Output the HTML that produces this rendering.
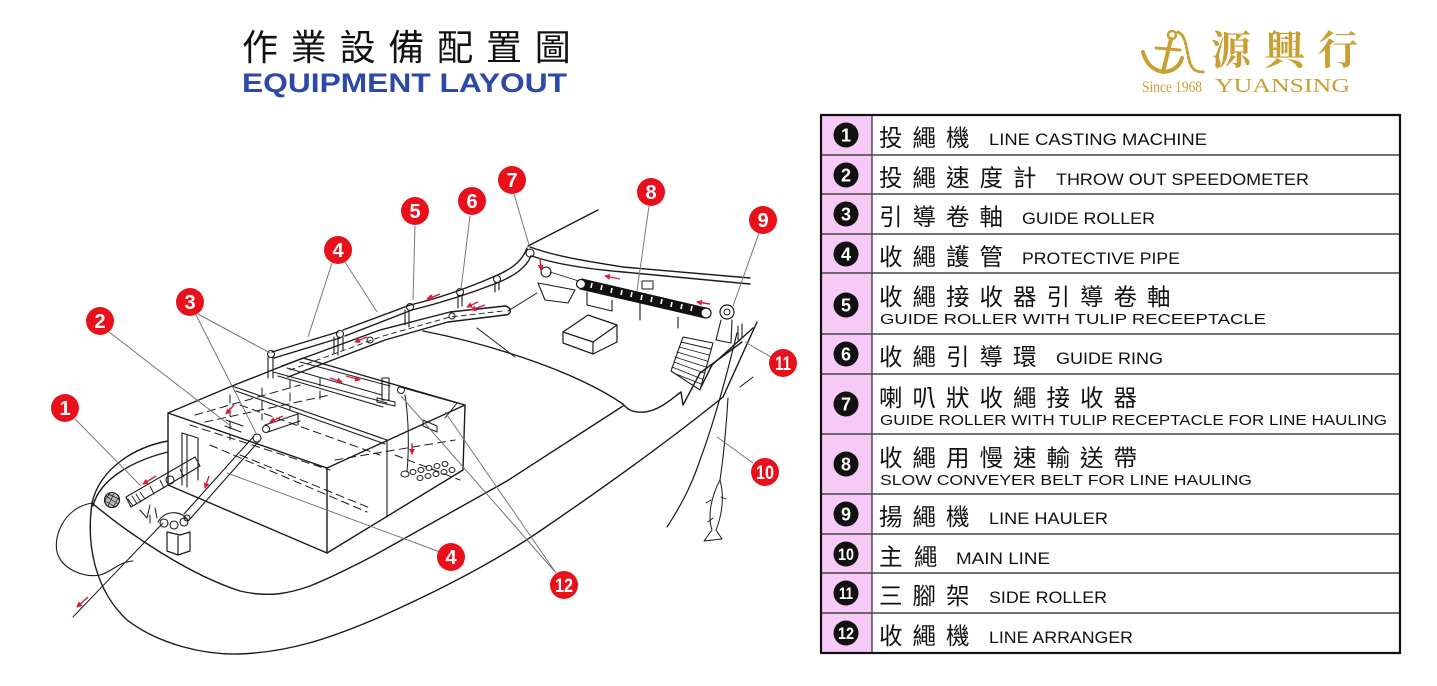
<!DOCTYPE html>
<html><head><meta charset="utf-8">
<style>
html,body{margin:0;padding:0;background:#fff;}
svg{display:block;}
</style></head><body>
<svg width="1437" height="686" viewBox="0 0 1437 686" xmlns="http://www.w3.org/2000/svg">
<defs>
<marker id="ar" markerWidth="6" markerHeight="6" refX="5" refY="3" orient="auto" markerUnits="userSpaceOnUse">
<path d="M0,0 L6,3 L0,6 Z" fill="#d4203c"/>
</marker>
</defs>
<rect width="1437" height="686" fill="#fff"/>

<!-- Title -->
<text x="242" y="60" font-family="'Noto Sans CJK TC','Noto Sans CJK SC',sans-serif" font-size="36" letter-spacing="12.8" fill="#111">作業設備配置圖</text>
<text x="242" y="92" font-family="'Liberation Sans',sans-serif" font-weight="bold" font-size="26.5" textLength="325" lengthAdjust="spacingAndGlyphs" fill="#2d48a8">EQUIPMENT LAYOUT</text>

<!-- Logo -->
<g fill="none" stroke="#c8a031" stroke-linecap="round">
<circle cx="1172" cy="35" r="4" stroke-width="2.5"/>
<path d="M1171,39 L1163,72" stroke-width="4"/>
<path d="M1156,48 L1180,50" stroke-width="3"/>
<path d="M1143,52 C1147,68 1160,75 1172,70 C1178,67 1181,62 1182,58" stroke-width="4"/>
<path d="M1178,32 C1185,35 1186,45 1188,55 C1190,65 1192,72 1203,72" stroke-width="3" stroke-dasharray="2 2.6"/>
</g>
<text x="1211" y="64" font-family="'Noto Serif CJK SC','Noto Serif CJK TC',serif" font-weight="bold" font-size="40" letter-spacing="13.5" fill="#c8a031">源興行</text>
<text x="1215" y="92" font-family="'Liberation Serif',serif" font-size="20" textLength="135" lengthAdjust="spacingAndGlyphs" fill="#c8a031">YUANSING</text>
<text x="1142" y="92" font-family="'Liberation Serif',serif" font-size="15.5" textLength="60" lengthAdjust="spacingAndGlyphs" fill="#c8a031">Since 1968</text>

<!-- ===== Boat drawing ===== -->
<g fill="none" stroke="#1a1a1a" stroke-width="1.4" stroke-linecap="round" stroke-linejoin="round">
<!-- hull -->
<path d="M168,441 C135,447 100,468 92,503"/>
<path d="M168,452 C135,460 100,478 93,506"/>
<path d="M92,503 C130,535 190,575 240,591 C270,598 290,593 310,586 C330,578 350,568 373,556 L507,481 L623,406"/>
<path d="M92,503 C86,545 95,590 127,620 C160,645 205,655 240,654 C290,652 330,638 373,620 C430,595 490,565 540,531 C600,490 670,440 723,397 L757,322"/>
<path d="M423,331 C480,342 570,368 623,404 C628,410 633,413 645,412 C660,410 670,400 681,392 L683,405 L700,373 L742,342"/>
<path d="M753,328 L712,365 L701,387"/>
<!-- stern -->
<path d="M528,246 L598,210"/>
<path d="M530,247 C560,258 600,263 623,267 L750,278"/>
<path d="M532,256 C560,266 600,270 623,272 L750,284"/>
<!-- pipes -->
<path d="M527,248 C522,262 510,270 493,277 C470,287 440,298 410,305"/>
<path d="M531,256 C526,268 514,276 497,283 C474,292 444,302 412,310"/>
<path d="M410,305 L343,330 M412,310 L345,336"/>
<path d="M338,332 L272,352 M340,338 L274,358"/>
<g stroke-width="1.1">
<circle cx="271" cy="354" r="3.5"/><circle cx="340" cy="334" r="3.5"/><circle cx="410" cy="307" r="3.5"/><circle cx="460" cy="292" r="3.5"/><circle cx="497" cy="279" r="3.5"/>
<path d="M268,357 L268,378 M273,357 L273,378 M334,337 L334,353 M338,337 L338,355 M343,337 L343,350 M405,310 L405,325 M409,311 L409,327 M458,295 L458,308 M462,295 L462,306 M495,282 L495,292 M499,282 L499,290"/>
</g>
<!-- walkway -->
<path d="M282,366 L380,330 L450,312 L505,306 C512,307 512,315 505,315 L448,322 L385,340 L288,377"/>
<path d="M290,370 L383,336 L450,317 L503,311" stroke-width="0.9" stroke-dasharray="5 4"/>
<circle cx="370" cy="340" r="3" stroke-width="1"/>
<circle cx="452" cy="316" r="3" stroke-width="1"/>
<!-- aft equipment -->
<circle cx="530" cy="253" r="4" stroke-width="1.1"/>
<circle cx="546" cy="272" r="5" stroke-width="1.1"/>
<path d="M538,283 L575,290 L568,303 L545,300 Z" stroke-width="1.1"/>
<path d="M550,272 L582,282" stroke-width="0.9"/>
<path d="M587,292 L587,305 L612,311 L612,300 M640,303 L640,320 M678,317 L678,328" stroke-width="1.1"/>
<rect x="642" y="281" width="11" height="8" stroke-width="1"/>
<circle cx="727" cy="312" r="7" stroke-width="1.2"/>
<circle cx="727" cy="312" r="3" stroke-width="1"/>
<path d="M721,320 L716,340 L731,343 L732,320" stroke-width="1.1"/>
<path d="M683,337 L713,343 L700,390 L671,371 Z" stroke-width="1.1"/>
<path d="M681,342 L711,349 M679,347 L709,355 M677,352 L707,361 M675,357 L706,367 M674,362 L704,373 M672,367 L702,379 M676,374 L701,384" stroke-width="0.9"/>
<path d="M563,332 L588,315 L617,325 L593,342 Z M563,332 L563,343 L593,354 L617,342 L617,325 M593,342 L593,354" stroke-width="1.2"/>
<path d="M477,328 L515,357 M508,311 L537,293" stroke-width="1"/>
<path d="M738,326 L738,340 M742,324 L742,337" stroke-width="1.1"/>
<path d="M740,387 L753,377" stroke-width="1"/>
<!-- main line & fish -->
<path d="M737,333 C728,370 715,420 700,460 C690,490 678,510 667,527" stroke-width="1.2"/>
<path d="M728,398 C726,430 723,460 720,480" stroke-width="1.1"/>
<path d="M720,480 C712,495 707,515 712,530 L704,541 L722,539 L716,530 C723,512 724,495 720,480 Z" stroke-width="1"/>
<path d="M711,500 L706,503 M713,518 L708,522 M721,497 L726,499" stroke-width="0.9"/>

<!-- main box -->
<path d="M168,413 L168,485 L327,553 L327,468 Z"/>
<path d="M327,468 L465,405 L463,470 L327,553"/>
<path d="M387,441 L387,517" stroke-width="1.1"/>
<path d="M168,413 L232,386 L270,371 L303,358 L465,405"/>
<path d="M232,386 L387,440 M236,391 L385,444" stroke-width="1.1"/>
<path d="M273,372 L387,403 M287,368 L382,395 M300,362 L390,386 M278,376 L383,407" stroke-width="1"/>
<path d="M400,387 L457,403 L445,418 M423,420 L437,426 L437,432 L423,426 Z" stroke-width="1"/>
<rect x="382" y="378" width="7" height="22" stroke-width="1.1"/>
<path d="M377,398 L395,402 L395,406 L377,402 Z" stroke-width="1"/>
<circle cx="401" cy="390" r="3.5" stroke-width="1"/>
<path d="M182,433 L182,485 M187,435 L187,487 M182,433 L198,438 L198,480" stroke-width="1.1"/>
<g stroke-width="1" stroke-dasharray="8 5">
<path d="M190,425 L330,470"/><path d="M210,445 L367,512"/><path d="M240,455 L370,508"/>
<path d="M195,415 L300,385"/><path d="M205,422 L330,395"/><path d="M240,405 L380,455"/>
<path d="M335,460 L455,440"/><path d="M395,455 L460,480"/>
<path d="M230,395 L230,440 M262,388 L262,420 M290,380 L290,410 M320,378 L320,400"/>
</g>
<path d="M226,420 L243,426 M225,426 L241,432" stroke-width="1"/>
<path d="M265,425 L298,414 M268,432 L300,421 M298,414 L298,425" stroke-width="1.1"/>
<circle cx="266" cy="429" r="3.5" stroke-width="1"/>
<path d="M405,395 C409,420 409,450 407,472" stroke-width="1"/>
<g stroke-width="1"><ellipse cx="405" cy="474" rx="4" ry="3"/><ellipse cx="413" cy="472" rx="3" ry="2.5"/><ellipse cx="421" cy="470" rx="3" ry="2.5"/><ellipse cx="429" cy="468" rx="3" ry="2.5"/><ellipse cx="437" cy="466" rx="3" ry="2.5"/><ellipse cx="445" cy="464" rx="3" ry="2.5"/><ellipse cx="420" cy="478" rx="3" ry="2.5"/><ellipse cx="428" cy="476" rx="3" ry="2.5"/><ellipse cx="436" cy="474" rx="3" ry="2.5"/><ellipse cx="444" cy="472" rx="3" ry="2.5"/><ellipse cx="452" cy="470" rx="3" ry="2.5"/></g>

<!-- bow equipment -->
<path d="M92,503 C62,508 52,540 58,555 C64,570 85,578 100,575 C112,572 118,562 133,561" stroke-width="1.1"/>
<path d="M163,523 L73,617" stroke-width="1"/>
<circle cx="112" cy="500" r="7.5" stroke-width="1.1" fill="#bbb"/>
<path d="M106,496 L118,504 M105,501 L116,507 M108,494 L119,499 M108,506 L114,493 M104,502 L110,493 M113,507 L119,497" stroke-width="0.7"/>
<path d="M126,497 L195,457 L200,466 L131,507 Z" stroke-width="1.1"/>
<path d="M128,499 L133,506 M132,496 L137,504 M136,494 L141,502 M140,492 L145,499 M150,486 L154,494 M160,480 L164,488 M180,469 L184,477" stroke-width="0.9"/>
<circle cx="170" cy="480" r="4" stroke-width="1.1"/>
<path d="M140,510 L147,518 L150,505 M150,515 L150,523 M155,508 L157,518" stroke-width="1"/>
<path d="M158,522 C165,510 180,510 188,520" stroke-width="1.1"/>
<circle cx="164" cy="523" r="4" stroke-width="1.1"/><circle cx="174" cy="525" r="4" stroke-width="1.1"/><circle cx="184" cy="522" r="4" stroke-width="1.1"/>
<path d="M167,532 L180,535 L190,532 L190,551 L178,555 L167,551 Z M178,536 L178,555" stroke-width="1.2"/>
<path d="M184,514 L254,436 M190,519 L259,441" stroke-width="1.1"/>
<circle cx="257" cy="438" r="4" stroke-width="1.1"/>
<circle cx="187" cy="518" r="3" stroke-width="1.1"/>
</g>

<!-- conveyor belt 8 -->
<path d="M582,279 L706,308 L705,318 L580,289 Z" fill="#111" stroke="#111" stroke-width="1"/>
<g stroke="#fff" stroke-width="1.6">
<path d="M592,283 L591,288 M602,285 L601,290 M612,288 L611,293 M622,290 L621,295 M632,292 L631,297 M642,295 L641,300 M652,297 L651,302 M662,299 L661,304 M672,302 L671,307 M682,304 L681,309 M692,306 L691,311"/>
</g>
<circle cx="706" cy="313" r="5" fill="#fff" stroke="#111" stroke-width="1.2"/>
<circle cx="581" cy="284" r="4.5" fill="#fff" stroke="#111" stroke-width="1.2"/>

<!-- red arrows -->
<g stroke="#d4203c" stroke-width="1.4" marker-end="url(#ar)" fill="none">
<path d="M156,476 L143,484"/><path d="M209,476 L205,488"/><path d="M88,597 L77,607"/>
<path d="M234,405 L226,414"/><path d="M283,416 L270,422"/><path d="M346,376 L360,380"/>
<path d="M440,294 L428,299"/><path d="M367,337 L355,342"/><path d="M478,302 L467,307"/>
<path d="M412,443 L412,454"/><path d="M438,295 L427,299"/><path d="M485,305 L471,310"/>
<path d="M540,258 L541,270"/><path d="M620,279 L605,276"/><path d="M710,304 L697,302"/>
<path d="M330,378 L342,382"/>
</g>

<!-- leader lines -->
<g stroke="#777" stroke-width="1" fill="none">
<path d="M75,419 L141,486"/>
<path d="M109,332 L232,427"/>
<path d="M198,314 L270,353 M196,315 L257,435"/>
<path d="M332,263 L308,337 M345,262 L377,312"/>
<path d="M440,552 L227,473"/>
<path d="M415,226 L413,300"/>
<path d="M470,216 L461,289"/>
<path d="M514,194 L529,245"/>
<path d="M649,206 L637,291"/>
<path d="M759,233 L733,306"/>
<path d="M753,463 L717,437"/>
<path d="M771,357 L745,342"/>
<path d="M556,573 L401,396 M556,573 L445,412"/>
</g>

<!-- markers -->
<g fill="#e8101a">
<circle cx="65" cy="408" r="14"/><circle cx="100" cy="321" r="14"/><circle cx="190" cy="302" r="14"/>
<circle cx="338" cy="250" r="14"/><circle cx="451" cy="557" r="14"/><circle cx="415" cy="211" r="14"/>
<circle cx="472" cy="201" r="14"/><circle cx="512" cy="180" r="14"/><circle cx="651" cy="192" r="14"/>
<circle cx="763" cy="220" r="14"/><circle cx="765" cy="472" r="14"/><circle cx="783" cy="363" r="14"/>
<circle cx="564" cy="585" r="14"/>
</g>
<g fill="#fff" font-family="'Liberation Sans',sans-serif" font-weight="bold" font-size="20" text-anchor="middle">
<text x="65" y="415">1</text><text x="100" y="328">2</text><text x="190" y="309">3</text>
<text x="338" y="257">4</text><text x="451" y="564">4</text><text x="415" y="218">5</text>
<text x="472" y="208">6</text><text x="512" y="187">7</text><text x="651" y="199">8</text>
<text x="763" y="227">9</text>
</g>
<g fill="#fff" font-family="'Liberation Sans',sans-serif" font-weight="bold" font-size="19">
<text x="756" y="479" textLength="18" lengthAdjust="spacingAndGlyphs">10</text>
<text x="775" y="370" textLength="16" lengthAdjust="spacingAndGlyphs">11</text>
<text x="555" y="592" textLength="18" lengthAdjust="spacingAndGlyphs">12</text>
</g>

<!-- ===== Table ===== -->
<rect x="822" y="116" width="50" height="536" fill="#f6c9f6"/>
<g stroke="#444" stroke-width="1.4">
<path d="M821,155 H1400 M821,194 H1400 M821,234 H1400 M821,273 H1400 M821,334 H1400 M821,374 H1400 M821,434 H1400 M821,494 H1400 M821,534 H1400 M821,573 H1400 M821,613 H1400"/>
<path d="M872,115 V653"/>
</g>
<rect x="821" y="115" width="579" height="538" fill="none" stroke="#111" stroke-width="2.2"/>

<!-- badges -->
<g fill="#111">
<circle cx="846" cy="135" r="12.5"/><circle cx="846" cy="175" r="12.5"/><circle cx="846" cy="214" r="12.5"/>
<circle cx="846" cy="254" r="12.5"/><circle cx="846" cy="305" r="12.5"/><circle cx="846" cy="354" r="12.5"/>
<circle cx="846" cy="404" r="12.5"/><circle cx="846" cy="464" r="12.5"/><circle cx="846" cy="514" r="12.5"/>
<circle cx="846" cy="554" r="12.5"/><circle cx="846" cy="593" r="12.5"/><circle cx="846" cy="633" r="12.5"/>
</g>
<g fill="#fff" font-family="'Liberation Sans',sans-serif" font-weight="bold" font-size="18" text-anchor="middle">
<text x="846" y="141.5">1</text><text x="846" y="181.5">2</text><text x="846" y="220.5">3</text>
<text x="846" y="260.5">4</text><text x="846" y="311.5">5</text><text x="846" y="360.5">6</text>
<text x="846" y="410.5">7</text><text x="846" y="470.5">8</text><text x="846" y="520.5">9</text>
</g>
<g fill="#fff" font-family="'Liberation Sans',sans-serif" font-weight="bold" font-size="17">
<text x="838" y="560" textLength="16" lengthAdjust="spacingAndGlyphs">10</text>
<text x="839" y="599" textLength="14" lengthAdjust="spacingAndGlyphs">11</text>
<text x="838" y="639" textLength="16" lengthAdjust="spacingAndGlyphs">12</text>
</g>

<!-- Chinese labels -->
<g fill="#111" font-family="'Noto Sans CJK TC','Noto Sans CJK SC',sans-serif" font-size="23.5" letter-spacing="10">
<text x="879" y="146">投繩機</text>
<text x="879" y="186">投繩速度計</text>
<text x="879" y="225">引導卷軸</text>
<text x="879" y="265">收繩護管</text>
<text x="879" y="305">收繩接收器引導卷軸</text>
<text x="879" y="365">收繩引導環</text>
<text x="879" y="406">喇叭狀收繩接收器</text>
<text x="879" y="466">收繩用慢速輸送帶</text>
<text x="879" y="525">揚繩機</text>
<text x="879" y="565" letter-spacing="11.5">主繩</text>
<text x="879" y="604">三腳架</text>
<text x="879" y="644">收繩機</text>
</g>
<!-- English labels -->
<g fill="#111" font-family="'Liberation Sans',sans-serif" font-size="16.5">
<text x="989" y="145" textLength="218" lengthAdjust="spacingAndGlyphs">LINE CASTING MACHINE</text>
<text x="1056" y="185" textLength="253" lengthAdjust="spacingAndGlyphs">THROW OUT SPEEDOMETER</text>
<text x="1022" y="224" textLength="133" lengthAdjust="spacingAndGlyphs">GUIDE ROLLER</text>
<text x="1022" y="264" textLength="158" lengthAdjust="spacingAndGlyphs">PROTECTIVE PIPE</text>
<text x="1056" y="364" textLength="107" lengthAdjust="spacingAndGlyphs">GUIDE RING</text>
<text x="989" y="524" textLength="119" lengthAdjust="spacingAndGlyphs">LINE HAULER</text>
<text x="956" y="564" textLength="94" lengthAdjust="spacingAndGlyphs">MAIN LINE</text>
<text x="989" y="603" textLength="118" lengthAdjust="spacingAndGlyphs">SIDE ROLLER</text>
<text x="989" y="643" textLength="144" lengthAdjust="spacingAndGlyphs">LINE ARRANGER</text>
</g>
<g fill="#111" font-family="'Liberation Sans',sans-serif" font-size="15">
<text x="880" y="324" textLength="386" lengthAdjust="spacingAndGlyphs">GUIDE ROLLER WITH TULIP RECEEPTACLE</text>
<text x="880" y="425" textLength="507" lengthAdjust="spacingAndGlyphs">GUIDE ROLLER WITH TULIP RECEPTACLE FOR LINE HAULING</text>
<text x="880" y="485" textLength="372" lengthAdjust="spacingAndGlyphs">SLOW CONVEYER BELT FOR LINE HAULING</text>
</g>
</svg>
</body></html>
